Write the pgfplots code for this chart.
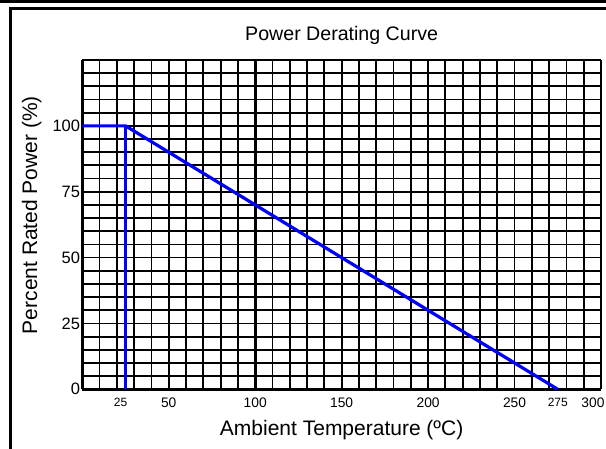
\documentclass[border=0pt]{standalone}
\usepackage{pgfplots}
\pgfplotsset{compat=1.18}
\usepackage{fontspec}
\setmainfont{Liberation Sans}
\newcommand{\sm}{\fontsize{12}{13}\selectfont}
\begin{document}
\begin{tikzpicture}[x=1pt,y=1pt]
\useasboundingbox (0,0) rectangle (606,448);
\draw[line width=3pt] (0,446.5) -- (606,446.5);
\draw[line width=3pt] (10.5,-2) -- (10.5,439) -- (608,439);
\begin{axis}[
  at={(82.3pt,58.7pt)}, anchor=south west,
  scale only axis, width=518.7pt, height=329.3pt,
  xmin=0, xmax=300, ymin=0, ymax=125,
  /pgf/number format/assume math mode=true,
  axis x line*=bottom, axis y line*=left,
  axis line style={black, line width=3pt},
  xtick={0,100,200},
  xticklabels={{},100,200},
  extra x ticks={25,50,150,250,275,300},
  extra x tick labels={{\raisebox{5pt}{\sm\makebox[0pt]{25\hspace*{10pt}}}},50,150,250,{\raisebox{5pt}{\sm 275}},{\makebox[0pt]{300\hspace*{16pt}}}},
  extra x tick style={xmajorgrids=false, xminorgrids=false},
  ytick={0,25,50,75,100},
  minor xtick={10,20,...,300},
  minor ytick={5,10,...,125},
  xminorgrids=true, yminorgrids=true,
  xmajorgrids=true, ymajorgrids=false,
  minor grid style={black, line width=1.8pt},
  major grid style={black, line width=2.7pt},
  major tick length=0pt, minor tick length=0pt,
  x tick label style={font=\fontsize{13.8}{14}\selectfont, inner sep=0pt, anchor=north, yshift=-8.5pt},
  y tick label style={font=\fontsize{16.5}{17}\selectfont, inner sep=0pt, anchor=east, xshift=-2pt},
  title={Power Derating Curve},
  title style={font=\fontsize{19.6}{20}\selectfont, at={(axis description cs:0.5,1.041)}, anchor=base},
  xlabel={Ambient Temperature (ºC)},
  xlabel style={font=\fontsize{21}{22}\selectfont, at={(axis description cs:0.5,-0.1388)}, anchor=base},
  ylabel={Percent Rated Power (\%)},
  ylabel style={font=\fontsize{21}{22}\selectfont, at={(axis description cs:-0.0873,0.529)}, anchor=base},
]
\addplot[color={rgb,255:red,0;green,0;blue,255}, line width=3.2pt] coordinates {(0,100) (25,100) (275,0)};
\addplot[color={rgb,255:red,0;green,0;blue,255}, line width=3.2pt] coordinates {(25,100) (25,0)};
\end{axis}
\end{tikzpicture}
\end{document}
